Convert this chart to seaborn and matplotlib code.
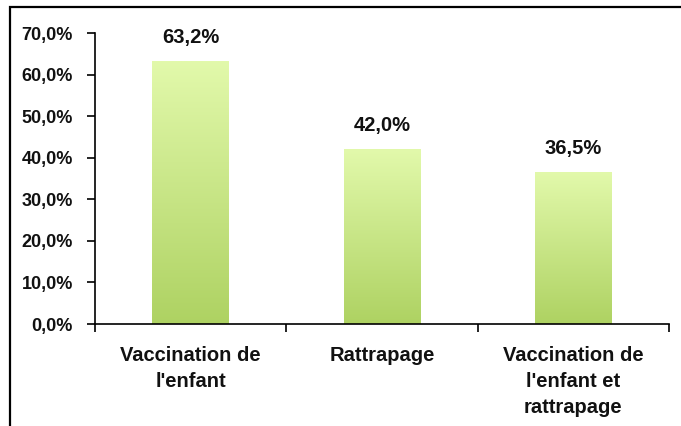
import numpy as np
import pandas as pd
import matplotlib
matplotlib.use("Agg")
import matplotlib.pyplot as plt
import seaborn as sns
from matplotlib.colors import LinearSegmentedColormap
from matplotlib.patches import Rectangle

categories = ["Vaccination de\nl'enfant", "Rattrapage", "Vaccination de\nl'enfant et\nrattrapage"]
values = [63.2, 42.0, 36.5]
yticks = [0, 10, 20, 30, 40, 50, 60, 70]
top_color = "#e2f9ab"
bottom_color = "#aed262"

sns.set_theme(style="white")
plt.rcParams["font.family"] = ["Liberation Sans", "DejaVu Sans"]
plt.rcParams["font.weight"] = "bold"

df = pd.DataFrame({"cat": categories, "val": values})

fig = plt.figure(figsize=(6.81, 4.26), dpi=100)
ax = fig.add_axes([95 / 681, 1 - 324 / 426, (669 - 95) / 681, (324 - 33) / 426])

sns.barplot(data=df, x="cat", y="val", ax=ax, width=0.40, color=bottom_color,
            saturation=1, edgecolor="none")

# vertical gradient clipped to each bar
cmap = LinearSegmentedColormap.from_list("grad", [bottom_color, top_color])
grad = np.linspace(0, 1, 256).reshape(-1, 1)
for bar in ax.patches:
    x0, w, h = bar.get_x(), bar.get_width(), bar.get_height()
    im = ax.imshow(grad, cmap=cmap, aspect="auto", origin="lower",
                   extent=[x0, x0 + w, 0, h], zorder=bar.get_zorder() + 0.1)
    im.set_clip_path(bar)
    ax.text(x0 + w / 2, h + 3.4, f"{h:.1f}%".replace(".", ","),
            ha="center", va="bottom", fontsize=14.5, fontweight="bold", color="#111111")

ax.set_xlim(-0.5, 2.5)
ax.set_ylim(0, 70)
ax.set_yticks(yticks)
ax.set_yticklabels([f"{v:.1f}%".replace(".", ",") for v in yticks],
                   fontsize=13, fontweight="bold", color="#111111")
ax.set_xticks(range(len(categories)))
ax.set_xticklabels(categories, fontsize=14.5, fontweight="bold", color="#111111",
                   linespacing=1.45)
ax.set_xticks([-0.5, 0.5, 1.5, 2.5], minor=True)
ax.tick_params(axis="x", which="major", length=0, pad=16)
ax.tick_params(axis="x", which="minor", length=6, width=1.2, direction="out",
               bottom=True, color="black")
ax.tick_params(axis="y", length=6, width=1.2, direction="out", left=True,
               color="black", pad=10)
ax.set_xlabel("")
ax.set_ylabel("")
for side in ["top", "right"]:
    ax.spines[side].set_visible(False)
for side in ["left", "bottom"]:
    ax.spines[side].set_color("black")
    ax.spines[side].set_linewidth(1.2)

# outer chart frame (partly cropped in the original)
frame = Rectangle((10 / 681, -0.1), 1.1, 1 - 7 / 426 + 0.1, transform=fig.transFigure,
                  fill=False, edgecolor="black", linewidth=1.6, clip_on=False)
fig.patches.append(frame)

fig.savefig("out.png", dpi=100)
